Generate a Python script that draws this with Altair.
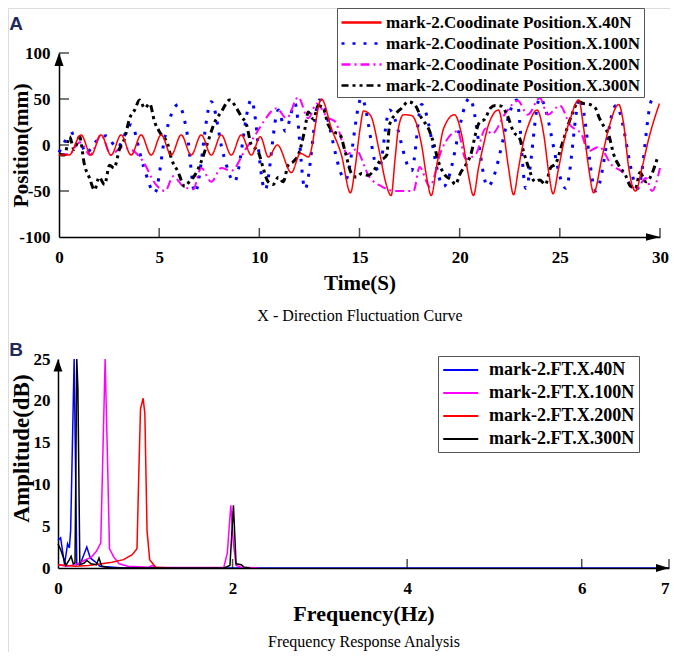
import altair as alt
import pandas as pd

# ---------------- Panel A : X-direction fluctuation (Time s -> Position mm) ----------------
A_SERIES = ["mark-2.Coodinate Position.X.40N", "mark-2.Coodinate Position.X.100N",
            "mark-2.Coodinate Position.X.200N", "mark-2.Coodinate Position.X.300N"]
A_COLORS = ["#ff0000", "#0000ff", "#ff00ff", "#000000"]

red_t = [0, 0.5, 1.1, 1.6, 2.1, 2.6, 3.1, 3.6, 4.1, 4.6, 5.1, 5.6, 6.1, 6.6, 7.1, 7.6, 8.1, 8.6,
         9.1, 9.6, 10.05, 10.45, 10.9, 11.6, 12.05, 12.45, 13.1, 13.6, 14.1, 14.55, 14.78, 15.03,
         15.2, 15.55, 16.0, 16.3, 16.58, 16.78, 16.94, 17.2, 17.6, 18.1, 18.36, 18.58, 18.86,
         19.2, 19.74, 20.1, 20.44, 20.69, 20.94, 21.19, 21.44, 21.94, 22.19, 22.44, 22.69, 22.94,
         23.19, 23.44, 23.86, 24.2, 24.44, 24.66, 24.94, 25.28, 25.53, 25.94, 26.19, 26.44, 26.69,
         27.1, 27.44, 27.94, 28.19, 28.44, 28.78, 29.1, 29.44, 29.97]
red_v = [-11, -11, 11, -11, 11, -11, 11, -11, 11, -11, 11, -11, 11, -11, 11, -11, 11, -11,
         11, -11, 9, -13, 0, -30, -9, -13, 50, 18, -11, -52, -25, 18,
         37, 32, -8, -40, -55, -14, 18, 33, 32, 0, -36, -55, -22,
         18, 33, 11, -33, -55, -25, 0, 22, 38, 14, -25, -54, -25,
         4, 22, 38, 11, -29, -53, -25, 11, 29, 49, 18, -25, -52,
         -14, 18, 44, 22, -25, -50, -25, 7, 45]

blue_t = [0, 0.55, 0.9, 1.35, 1.8, 2.35, 2.9, 3.6, 4.2, 4.78, 5.3, 5.95, 6.4, 6.78, 7.6, 8.2,
          8.75, 9.6, 10.28, 10.95, 11.3, 11.78, 12.28, 13.0, 14.3, 15.1, 15.95, 16.5, 17.6,
          18.1, 19.2, 20.5, 21.4, 22.85, 23.3, 24.0, 25.3, 26.0, 26.8, 27.8, 28.9, 29.6, 29.9]
blue_v = [-8, 11, 14, -9, 3, 10, -3, 22, -22, -52, 10, 44, 12, -52, 47, -10,
          -40, 49, -49, 38, 15, 45, -48, 49, -38, 51, -28, 38, -28,
          44, -45, 51, -45, 49, -47, 51, -47, 51, -50, 43, -47, 49, 50]

mag_t = [0, 0.5, 1.05, 1.55, 2.1, 2.6, 3.1, 3.6, 4.2, 4.8, 5.3, 5.7, 6.2, 6.7, 7.1, 7.6, 8.1,
         8.6, 9.3, 9.8, 10.2, 10.86, 11.36, 11.94, 12.44, 12.86, 13.4, 13.8, 14.4, 14.8, 15.5,
         16.1, 16.8, 17.7, 18.0, 18.5, 19.1, 19.9, 20.3, 20.8, 21.3, 21.6, 22.3, 22.9, 23.4,
         24.0, 24.4, 25.0, 25.5, 26.1, 26.4, 26.95, 27.6, 28.1, 28.8, 29.3, 29.6, 30.0]
mag_v = [-10, -10, 3, -11, 11, -11, -3, -5, -18, -42, -50, -34, -45, -48, -25, -40, -25,
         -28, -5, 11, 25, 40, 29, 52, 29, 45, 30, 25, -10, -5, -35,
         -45, -50, -50, -24, -45, -5, 15, -15, -10, 18, 12, 35, 48, 33,
         51, 33, 43, 22, 11, -7, -2, -22, -29, -48, -36, -50, -25]

blk_t = [0.0, 0.275, 0.525, 0.75, 1.025, 1.275, 1.525, 1.775, 2.0, 2.275, 2.525, 2.75, 3.025,
         3.275, 3.525, 3.775, 4.025, 4.275, 4.525, 4.775, 5.025, 5.44, 5.6, 5.94, 6.275, 6.5,
         6.775, 7.1, 7.44, 7.775, 8.1, 8.525, 8.86, 9.1, 9.36, 9.6, 9.94, 10.19, 10.44, 10.69,
         10.95, 11.19, 11.44, 11.7, 11.94, 12.28, 12.44, 12.7, 12.94, 13.19, 13.44, 13.75,
         14.03, 14.28, 14.6, 14.85, 15.1, 15.44, 15.7, 16.0, 16.36, 16.5, 16.78, 17.1, 17.44,
         17.75, 18.1, 18.44, 18.7, 18.94, 19.28, 19.6, 19.78, 20.05, 20.3, 20.6, 20.78, 21.0,
         21.25, 21.53, 21.78, 22.1, 22.36, 22.7, 23.0, 23.2, 23.4, 23.78, 24.0, 24.28, 24.53,
         24.8, 25.1, 25.36, 25.6, 25.94, 26.2, 26.5, 26.78, 26.94, 27.2, 27.44, 27.7, 27.94,
         28.28, 28.53, 28.78, 29.0, 29.3, 29.9]
blk_v = [-10, -11, 9, -5, 9, -22, -36, -49, -35, -43, -22, -25, -4,
         7, 29, 38, 49, 40, 45, 25, 14, 0, -14, -29, -45, -40,
         -33, -18, 4, 25, 36, 49, 40, 31, 22, 0, -7, -25, -40, -43,
         -35, -40, -22, -18, -11, 18, 36, 28, 43, 40, 22, 14,
         11, -7, -31, -35, -31, -33, -28, -18, -11, 22, 33, 40, 47,
         44, 29, 18, 2, -18, -33, -38, -43, -30, -22, -7, 11, 25,
         28, 40, 43, 42, 33, 14, 7, -8, -22, -40, -38, -43, -25,
         -20, 0, 18, 33, 47, 45, 44, 40, 31, 20, 11, -11, -22,
         -33, -45, -47, -30, -40, -12]

A_XTICKS = [5, 10, 15, 20, 25, 30]
A_YTICKS = [-50, 0, 50, 100]
A_XLABELS = [0, 5, 10, 15, 20, 25, 30]
A_YLABELS = [-100, -50, 0, 50, 100]

# ---------------- Panel B : Frequency response (Hz -> dB) ----------------
B_SERIES = ["mark-2.FT.X.40N", "mark-2.FT.X.100N", "mark-2.FT.X.200N", "mark-2.FT.X.300N"]
B_COLORS = ["#0000ff", "#ff00ff", "#ff0000", "#000000"]

bblue_f = [0, 0.03, 0.075, 0.11, 0.13, 0.145, 0.185, 0.215, 0.26, 0.33, 0.37, 0.42, 0.48, 0.75, 7.0]
bblue_a = [3.3, 3.6, 0.4, 2.9, 2.4, 4.5, 25, 0.4, 0.6, 2.5, 1.2, 0.8, 0.2, 0, 0]

bmag_f = [0, 0.1, 0.2, 0.3, 0.38, 0.44, 0.49, 0.515, 0.54, 0.565, 0.59, 0.64, 0.7, 0.8, 1.04,
          1.08, 1.12, 1.5, 1.9, 1.94, 1.98, 2.01, 2.04, 2.1, 2.3]
bmag_a = [0.4, 0.2, 0.4, 0.9, 1.3, 2.0, 3.0, 14, 25, 14, 2.3, 1.3, 0.5, 0.2, 0.1,
          0.3, 0.1, 0.05, 0.1, 1.8, 7.5, 2.9, 0.3, 0.1, 0]

bred_f = [0, 0.1, 0.2, 0.35, 0.5, 0.62, 0.75, 0.85, 0.905, 0.925, 0.945, 0.975, 0.995, 1.02,
          1.05, 1.12, 1.3]
bred_a = [0.4, 0.3, 0.2, 0.3, 0.5, 0.7, 1.0, 1.6, 2.3, 11, 19, 20.3, 18.5, 4.5, 1.0, 0.1, 0]

bblk_f = [0, 0.03, 0.06, 0.09, 0.13, 0.15, 0.175, 0.195, 0.215, 0.228, 0.25, 0.3, 0.33, 0.38,
          0.44, 0.47, 0.5, 0.6, 1.9, 1.97, 2.01, 2.04, 2.1, 2.13, 2.2]
bblk_a = [2.9, 2.2, 1.3, 0.3, 1.0, 1.4, 0.5, 0.6, 25, 21.5, 0.4, 0.6, 0.9, 0.5,
          0.4, 1.2, 0.2, 0, 0, 0.3, 7.5, 0.5, 0.4, 0.1, 0]

B_XTICKS = [2, 4, 6, 7]
B_XLABELS = [0, 2, 4, 6, 7]
B_YLABELS = [0, 5, 10, 15, 20, 25]

SERIF = "Liberation Serif"
W, H = 662, 644


def axis(orient, offset, values, title, tsize, lpad, lsize, **kw):
    return alt.Axis(orient=orient, offset=offset, values=values, title=title, grid=False,
                    ticks=False, domain=True, domainColor="black", domainWidth=1.5,
                    labelFont=SERIF, labelFontWeight="bold", labelFontSize=lsize,
                    labelColor="black", labelPadding=lpad, labelFlush=False,
                    labelOverlap=False, labelExpr="datum.value + ''",
                    titleFont=SERIF, titleFontWeight="bold", titleFontSize=tsize,
                    titleColor="black", titleBaseline="middle", **kw)


# ---- panel A scales/axes ----
xsA = alt.Scale(domain=[0, 30], range=[51, 652], nice=False, zero=False)
ysA = alt.Scale(domain=[-100, 100], range=[229, 45], nice=False, zero=False)
axAx = axis("bottom", 229 - H, A_XLABELS, "Time(S)", 21, 12, 17, titleY=46)
axAy = axis("left", -51, A_YLABELS, "Position(mm)", 21.5, 9, 17, titleX=-38)
colA = alt.Scale(domain=A_SERIES, range=A_COLORS)
dashA = alt.Scale(domain=A_SERIES, range=[[1, 0], [3, 8], [9, 4, 2, 4], [7, 4, 3, 4, 3, 4]])
legA = alt.Legend(orient="none", legendX=329, legendY=0, title=None, direction="vertical",
                  labelFont=SERIF, labelFontWeight="bold", labelFontSize=17, labelColor="black",
                  labelLimit=600, symbolType="M-1,0H3", symbolSize=400, symbolStrokeWidth=2.5,
                  strokeColor="#555555", fillColor="white", padding=3, rowPadding=1,
                  labelOffset=23, offset=0)

a_data = [(blue_t, blue_v, 1, 3), (mag_t, mag_v, 2, 2), (blk_t, blk_v, 3, 3), (red_t, red_v, 0, 1.5)]
a_layers = []
for ts, vs, idx, sw in a_data:
    df = pd.DataFrame({"t": ts, "v": vs, "s": A_SERIES[idx]})
    a_layers.append(
        alt.Chart(df).mark_line(interpolate="monotone", strokeWidth=sw).encode(
            x=alt.X("t:Q", scale=xsA, axis=axAx),
            y=alt.Y("v:Q", scale=ysA, axis=axAy),
            color=alt.Color("s:N", scale=colA, legend=legA),
            strokeDash=alt.StrokeDash("s:N", scale=dashA, legend=legA),
        )
    )

one = pd.DataFrame({"k": [0]})
a_xt = alt.Chart(pd.DataFrame({"t": A_XTICKS})).mark_tick(
    orient="vertical", size=9, thickness=1.5, color="black", yOffset=-4.5).encode(
    x=alt.X("t:Q", scale=xsA, axis=axAx), y=alt.YDatum(-100, scale=ysA, axis=axAy))
a_yt = alt.Chart(pd.DataFrame({"v": A_YTICKS})).mark_tick(
    orient="horizontal", size=10, thickness=1.5, color="black", xOffset=5).encode(
    y=alt.Y("v:Q", scale=ysA, axis=axAy), x=alt.XDatum(0, scale=xsA, axis=axAx))
a_up = alt.Chart(one).mark_point(shape="M0,0 L0.35,1 L-0.35,1 Z", filled=True, size=676,
                                 color="black", opacity=1, strokeWidth=0).encode(
    x=alt.XDatum(0, scale=xsA, axis=axAx), y=alt.YDatum(100, scale=ysA, axis=axAy))
a_rt = alt.Chart(one).mark_point(shape="M0,0 L-1,-0.27 L-1,0.27 Z", filled=True, size=784,
                                 color="black", opacity=1, strokeWidth=0).encode(
    x=alt.XDatum(30, scale=xsA, axis=axAx), y=alt.YDatum(-100, scale=ysA, axis=axAy))

panelA = alt.layer(*a_layers, a_xt, a_yt, a_up, a_rt)

# ---- panel B scales/axes ----
xsB = alt.Scale(domain=[0, 7], range=[50, 661], nice=False, zero=False)
ysB = alt.Scale(domain=[0, 25], range=[560, 351], nice=False, zero=False)
axBx = axis("bottom", 560 - H, B_XLABELS, "Frequency(Hz)", 22, 12, 17, titleY=45, zindex=1,
            labelAlign={"condition": {"test": "datum.value == 7", "value": "right"},
                        "value": "center"})
axBy = axis("left", -50, B_YLABELS, "Amplitude(dB)", 23, 8, 17, titleX=-37, titleY=440)
colB = alt.Scale(domain=B_SERIES, range=B_COLORS)
legB = alt.Legend(orient="none", legendX=430, legendY=348, title=None, direction="vertical",
                  labelFont=SERIF, labelFontWeight="bold", labelFontSize=18, labelColor="black",
                  labelLimit=600, symbolType="M-1,0H3", symbolSize=306, symbolStrokeWidth=2,
                  strokeColor="#555555", fillColor="white", padding=4, rowPadding=4,
                  labelOffset=27, offset=0)

b_data = [(bblue_f, bblue_a, 0), (bmag_f, bmag_a, 1), (bred_f, bred_a, 2), (bblk_f, bblk_a, 3)]
b_layers = []
for fs, amps, idx in b_data:
    df = pd.DataFrame({"f": fs, "a": amps, "s": B_SERIES[idx]})
    b_layers.append(
        alt.Chart(df).mark_line(strokeWidth=1.5).encode(
            x=alt.X("f:Q", scale=xsB, axis=axBx),
            y=alt.Y("a:Q", scale=ysB, axis=axBy),
            color=alt.Color("s:N", scale=colB, legend=legB),
        )
    )

b_xt = alt.Chart(pd.DataFrame({"f": B_XTICKS})).mark_tick(
    orient="vertical", size=9, thickness=1.5, color="black", yOffset=-4.5).encode(
    x=alt.X("f:Q", scale=xsB, axis=axBx), y=alt.YDatum(0, scale=ysB, axis=axBy))
b_up = alt.Chart(one).mark_point(shape="M0,0 L0.35,1 L-0.35,1 Z", filled=True, size=635,
                                 color="black", opacity=1, strokeWidth=0).encode(
    x=alt.XDatum(0, scale=xsB, axis=axBx), y=alt.YDatum(25, scale=ysB, axis=axBy))
b_rt = alt.Chart(one).mark_point(shape="M0,0 L-1,-0.3 L-1,0.3 Z", filled=True, size=676,
                                 color="black", opacity=1, strokeWidth=0).encode(
    x=alt.XDatum(7, scale=xsB, axis=axBx), y=alt.YDatum(0, scale=ysB, axis=axBy))

panelB = alt.layer(*b_layers, b_xt, b_up, b_rt)

# ---- annotations ----
def label(txt, x, y, font, size, weight, color):
    return alt.Chart(one).mark_text(text=txt, font=font, fontSize=size, fontWeight=weight,
                                    color=color, align="center", baseline="middle").encode(
        x=alt.value(x), y=alt.value(y))

texts = [
    label("A", 8, 16, "Liberation Sans", 19, "bold", "#1f2a5c"),
    label("B", 8, 342, "Liberation Sans", 19, "bold", "#1f2a5c"),
    label("X - Direction Fluctuation Curve", 352, 308, SERIF, 16, "normal", "black"),
    label("Frequency Response Analysis", 356, 634, SERIF, 16, "normal", "black"),
]

chart = alt.layer(panelA, panelB, *texts).resolve_scale(
    x="independent", y="independent", color="independent", strokeDash="independent"
).resolve_axis(x="independent", y="independent").resolve_legend(
    color="independent", strokeDash="independent"
).properties(
    width=W, height=H, padding=0, autosize=alt.AutoSizeParams(type="none")
).configure_view(strokeWidth=0).configure(font=SERIF)

chart.save("out.html", embed_options={"renderer": "svg", "actions": False})
